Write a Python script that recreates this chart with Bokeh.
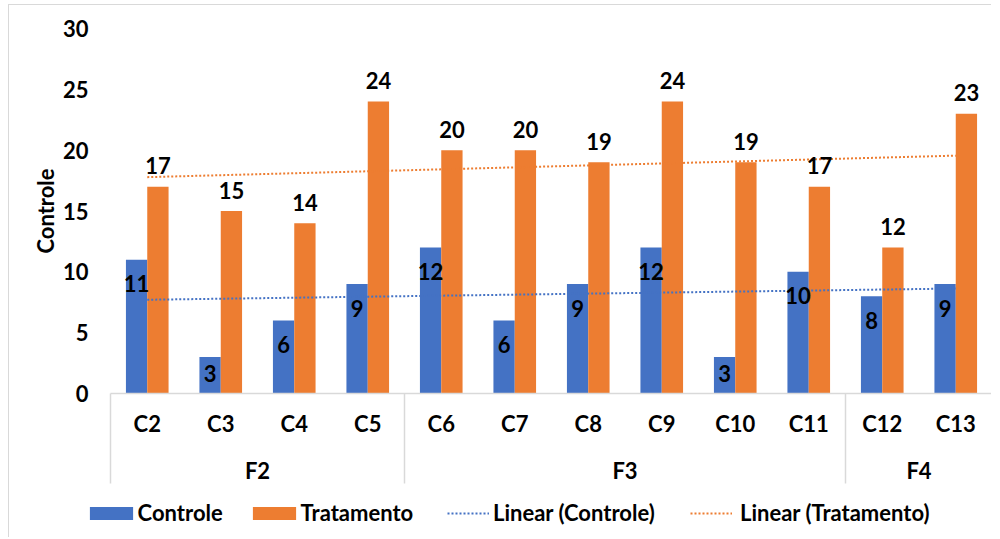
import numpy as np
from bokeh.plotting import figure
from bokeh.models import (Range1d, FixedTicker, ColumnDataSource, Legend, LegendItem)
from bokeh.core.properties import value
from bokeh.embed import file_html
from bokeh.resources import INLINE

# ---- data ----
categories = ["C2", "C3", "C4", "C5", "C6", "C7", "C8", "C9", "C10", "C11", "C12", "C13"]
groups = ["F2", "F2", "F2", "F2", "F3", "F3", "F3", "F3", "F3", "F3", "F4", "F4"]
controle = [11, 3, 6, 9, 12, 6, 9, 12, 3, 10, 8, 9]
tratamento = [17, 15, 14, 24, 20, 20, 19, 24, 19, 17, 12, 23]
y_ticks = [0, 5, 10, 15, 20, 25, 30]
y_title = "Controle"
series_names = ["Controle", "Tratamento", "Linear (Controle)", "Linear (Tratamento)"]

BLUE = "#4472C4"
ORANGE = "#ED7D31"
GRAY = "#D9D9D9"
FONT = "Lato"
FS = "22px"

# ---- layout constants (page px) ----
OX, OY = 9, 5                 # content origin on page (after margin + border)
FL, FR, FT, FB = 30, 992, 28, 538   # frame edges on page
AX_L = 110                    # left edge of category axis
Y0, Y30 = 393, 28
LEG_CY = 512                  # legend centre line on page
ppu = (Y0 - Y30) / 30.0
ppx = (FR - AX_L) / len(categories)
x_start = -0.5 - (AX_L - FL) / ppx
y_start = 30 - (FB - FT) / ppu

p = figure(width=FR - OX, height=FB - OY, output_backend="svg", toolbar_location=None,
           x_range=Range1d(x_start, len(categories) - 0.5),
           y_range=Range1d(y_start, 30),
           x_axis_location=None, title=None,
           min_border_left=FL - OX, min_border_right=0,
           min_border_top=FT - OY, min_border_bottom=0)
p.outline_line_color = None
p.xgrid.visible = False
p.ygrid.visible = False
p.styles = {"border-left": "1px solid #D9D9D9", "border-top": "1px solid #D9D9D9",
            "margin-left": "8px", "margin-top": "4px"}

ya = p.yaxis[0]
ya.ticker = FixedTicker(ticks=y_ticks)
ya.axis_line_color = None
ya.major_tick_line_color = None
ya.minor_tick_line_color = None
ya.major_tick_out = 0
ya.major_tick_in = 0
ya.minor_tick_out = 0
ya.major_label_standoff = -(88 - FL)
ya.major_label_text_font = FONT
ya.major_label_text_font_style = "bold"
ya.major_label_text_font_size = FS
ya.major_label_text_color = "black"

# axis title, centred on the 0..30 value span
p.text(x=[-0.5 - (AX_L - 45) / ppx], y=[(y_ticks[0] + y_ticks[-1]) / 2], text=[y_title],
       angle=np.pi / 2, text_align="center", text_baseline="middle",
       text_font=value(FONT), text_font_style="bold", text_font_size=FS, text_color="black")

idx = np.arange(len(categories))
bw = 0.29
src = ColumnDataSource(dict(
    xb=idx - bw / 2, xo=idx + bw / 2,
    c=controle, t=tratamento,
    cl=[str(v) for v in controle], tl=[str(v) for v in tratamento],
    coff=[min(24.0, v * ppu - 20) for v in controle],
))

r_c = p.vbar(x="xb", top="c", width=bw, bottom=0, source=src, fill_color=BLUE, line_color=None)
r_t = p.vbar(x="xo", top="t", width=bw, bottom=0, source=src, fill_color=ORANGE, line_color=None)

kc = np.polyfit(idx, controle, 1)
kt = np.polyfit(idx, tratamento, 1)
xe = np.array([idx[0], idx[-1]], dtype=float)
r_lc = p.line(xe, np.polyval(kc, xe), line_color=BLUE, line_width=2, line_dash="2 2")
r_lt = p.line(xe, np.polyval(kt, xe), line_color=ORANGE, line_width=2, line_dash="2 2")

p.text(x="xb", y="c", text="cl", source=src, y_offset="coff", text_align="center",
       text_baseline="middle", text_font=value(FONT), text_font_style="bold",
       text_font_size=FS, text_color="black")
p.text(x="xo", y="t", text="tl", source=src, y_offset=-21, text_align="center",
       text_baseline="middle", text_font=value(FONT), text_font_style="bold",
       text_font_size=FS, text_color="black")

p.segment(x0=[-0.5], y0=[0], x1=[len(categories) - 0.5], y1=[0], line_color=GRAY, line_width=1.5)
p.text(x=idx, y=np.zeros(len(idx)), text=categories, y_offset=30, text_align="center",
       text_baseline="middle", text_font=value(FONT), text_font_style="bold",
       text_font_size=FS, text_color="black")
bounds = [-0.5]
names = [groups[0]]
for i in range(1, len(groups)):
    if groups[i] != groups[i - 1]:
        bounds.append(i - 0.5)
        names.append(groups[i])
bounds.append(len(groups) - 0.5)
sep_len = 90 / ppu
p.segment(x0=bounds, y0=[0] * len(bounds), x1=bounds, y1=[-sep_len] * len(bounds),
          line_color=GRAY, line_width=1.5)
gx = [(bounds[i] + bounds[i + 1]) / 2 for i in range(len(names))]
p.text(x=gx, y=[0] * len(gx), text=names, y_offset=77, text_align="center",
       text_baseline="middle", text_font=value(FONT), text_font_style="bold",
       text_font_size=FS, text_color="black")

leg_y = FB - LEG_CY - 14   # legend box bottom above frame bottom

def add_leg(label, r, xpage, gw, gh, standoff):
    lg = Legend(items=[LegendItem(label=label, renderers=[r])], location=(xpage - FL, leg_y),
                orientation="horizontal", padding=0, margin=0, spacing=0,
                glyph_width=gw, glyph_height=gh, label_height=gh, label_standoff=standoff,
                label_text_font=FONT, label_text_font_style="bold",
                label_text_font_size=FS, label_text_color="black",
                border_line_color=None, background_fill_alpha=0)
    p.add_layout(lg, "center")

add_leg(series_names[0], r_c, 89 - 5.4, 54, 16, 0)
add_leg(series_names[1], r_t, 252 - 5.4, 54, 16, 0)
add_leg(series_names[2], r_lc, 447, 42, 16, 4)
add_leg(series_names[3], r_lt, 690, 42, 16, 8)

open("out.html", "w").write(file_html(p, INLINE))
